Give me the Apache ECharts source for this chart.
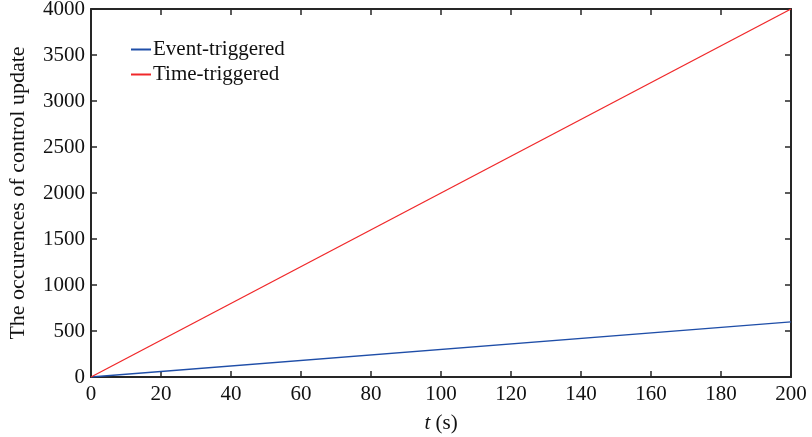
<!DOCTYPE html>
<html>
<head>
<meta charset="utf-8">
<script src="https://cdn.jsdelivr.net/npm/echarts@6/dist/echarts.min.js"></script>
<style>
  html, body { margin: 0; padding: 0; background: #fff; }
  #main { width: 812px; height: 437px; }
</style>
</head>
<body>
<div id="main"></div>
<script>
var tValues = [0, 200];
var eventTriggered = [0, 600];
var timeTriggered = [0, 4000];
var xTicks = [0, 20, 40, 60, 80, 100, 120, 140, 160, 180, 200];
var yTicks = [0, 500, 1000, 1500, 2000, 2500, 3000, 3500, 4000];

~function () {
    var myChart = echarts.init(document.getElementById('main'));
    var font = 'Liberation Serif';
    var axisColor = '#262626';
    function pairs(xs, ys) {
        return xs.map(function (x, i) { return [x, ys[i]]; });
    }
    var option = {
        animation: false,
        textStyle: {fontFamily: font},
        grid: {left: 91, right: 21, top: 9, bottom: 60, outerBoundsMode: 'none', containLabel: false},
        legend: {
            orient: 'vertical',
            left: 126,
            top: 34,
            itemWidth: 20,
            itemHeight: 2,
            itemGap: 4,
            icon: 'rect',
            textStyle: {fontFamily: font, fontSize: 21, color: '#111', padding: [0, 0, 0, -3]},
            data: ['Event-triggered', 'Time-triggered']
        },
        xAxis: [
            {
                type: 'value',
                min: 0, max: 200, interval: xTicks[1] - xTicks[0],
                name: '{i|t} (s)',
                nameLocation: 'middle',
                nameGap: 36,
                nameTextStyle: {
                    fontSize: 21, color: '#111', fontFamily: font,
                    rich: {i: {fontStyle: 'italic', fontSize: 21, fontFamily: font, color: '#111'}}
                },
                axisLine: {show: true, lineStyle: {color: axisColor, width: 2}},
                axisTick: {show: true, inside: true, length: 6, lineStyle: {color: axisColor, width: 1.5}},
                axisLabel: {fontSize: 21, color: '#111', margin: 7, fontFamily: font,
                    formatter: function (v) { return String(v); }},
                splitLine: {show: false}
            },
            {
                type: 'value', position: 'top',
                min: 0, max: 200, interval: 20,
                axisLine: {show: true, onZero: false, lineStyle: {color: axisColor, width: 2}},
                axisTick: {show: true, inside: true, length: 6, lineStyle: {color: axisColor, width: 1.5}},
                axisLabel: {show: false},
                splitLine: {show: false}
            }
        ],
        yAxis: [
            {
                type: 'value',
                min: 0, max: 4000, interval: yTicks[1] - yTicks[0],
                name: 'The occurences of control update',
                nameLocation: 'middle',
                nameGap: 62,
                nameTextStyle: {fontSize: 22, color: '#111', fontFamily: font},
                axisLine: {show: true, lineStyle: {color: axisColor, width: 2}},
                axisTick: {show: true, inside: true, length: 6, lineStyle: {color: axisColor, width: 1.5}},
                axisLabel: {fontSize: 21, color: '#111', margin: 6, fontFamily: font,
                    formatter: function (v) { return String(v); }},
                splitLine: {show: false}
            },
            {
                type: 'value', position: 'right',
                min: 0, max: 4000, interval: 500,
                axisLine: {show: true, onZero: false, lineStyle: {color: axisColor, width: 2}},
                axisTick: {show: true, inside: true, length: 6, lineStyle: {color: axisColor, width: 1.5}},
                axisLabel: {show: false},
                splitLine: {show: false}
            }
        ],
        series: [
            {
                name: 'Event-triggered',
                type: 'line',
                data: pairs(tValues, eventTriggered),
                showSymbol: false,
                itemStyle: {color: '#1f4ea8'},
                lineStyle: {color: '#1f4ea8', width: 1.3}
            },
            {
                name: 'Time-triggered',
                type: 'line',
                data: pairs(tValues, timeTriggered),
                showSymbol: false,
                itemStyle: {color: '#f0282a'},
                lineStyle: {color: '#f0282a', width: 1.3}
            }
        ]
    };
    myChart.setOption(option);
}();
</script>
</body>
</html>
